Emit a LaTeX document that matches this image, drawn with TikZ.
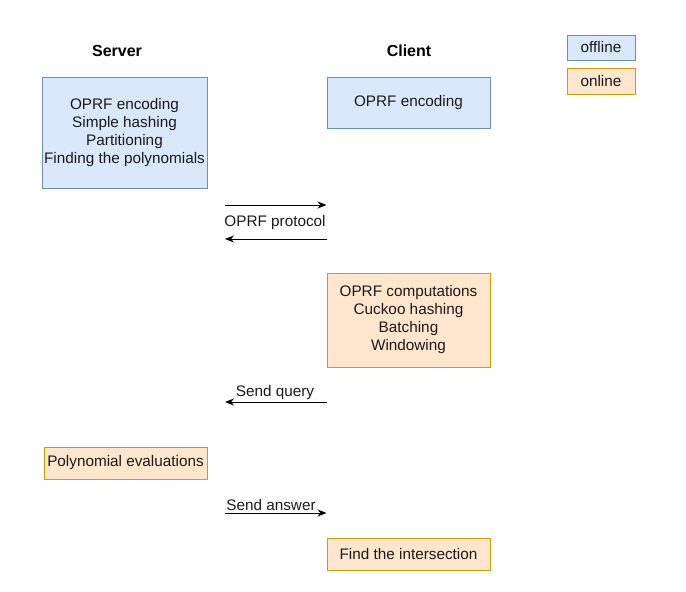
\documentclass[tikz,border=0pt]{standalone}
\usepackage{fontspec}
\setmainfont{Liberation Sans}
\usetikzlibrary{arrows.meta, positioning}
\definecolor{offfill}{HTML}{DAE8FC}
\definecolor{offdraw}{HTML}{6C8EBF}
\definecolor{onfill}{HTML}{FFE6CC}
\definecolor{ondraw}{HTML}{D79B00}
\definecolor{txt}{HTML}{1A1A1A}
\tikzset{
    box/.style={
        rectangle, draw, line width=1pt, align=center, inner sep=0pt,
        text=txt, font=\fontsize{15.3}{18}\selectfont
    },
    offbox/.style={box, fill=offfill, draw=offdraw},
    onbox/.style={box, fill=onfill, draw=ondraw},
    title/.style={font=\fontsize{16}{19}\selectfont\bfseries},
    msg/.style={draw=black, line width=1pt, -{Stealth[length=9pt, width=7pt]}},
    label/.style={font=\fontsize{15.3}{18}\selectfont, text=txt, inner sep=1pt}
}

\begin{document}
\begin{tikzpicture}[x=1pt, y=-1pt]
    \useasboundingbox (0,0) rectangle (686,592);

    % Titles
    \node[title] (server) at (117,51) {Server};
    \node[title] (client) at (409,51) {Client};

    % Legend
    \node[offbox, minimum width=68pt, minimum height=25pt] (offline) at (601,47.5) {offline};
    \node[onbox, minimum width=68pt, minimum height=26pt] (online) at (601,81) {online};

    % Offline phase
    \node[offbox, minimum width=165pt, minimum height=111pt] (srvoff) at (124.5,132.5)
        {OPRF encoding\\Simple hashing\\Partitioning\\Finding the polynomials};
    \node[offbox, minimum width=163pt, minimum height=51pt] (cltoff) at (408.5,102.5)
        {OPRF encoding};

    % OPRF protocol
    \coordinate (p1) at (225,205);
    \coordinate (p2) at (225,239);
    \draw[msg] (p1) -- (p1 -| cltoff.west);
    \node[label] (proto) at (275,223) {OPRF protocol};
    \draw[msg] (p2 -| cltoff.west) -- (p2);

    % Online phase
    \node[onbox, minimum width=163pt, minimum height=94pt] (cltquery) at (408.5,320)
        {OPRF computations\\Cuckoo hashing\\Batching\\Windowing};

    \coordinate (q1) at (225,402);
    \draw[msg] (q1 -| cltquery.west) -- (q1);
    \node[label] (query) at (275,393) {Send query};

    \node[onbox, minimum width=163pt, minimum height=32pt] (srveval) at (125.5,463)
        {Polynomial evaluations};

    \coordinate (a1) at (225,513);
    \draw[msg] (a1) -- (a1 -| cltquery.west);
    \node[label] (answer) at (271,505) {Send answer};

    \node[onbox, minimum width=163pt, minimum height=32pt] (cltinter) at (408.5,554)
        {Find the intersection};
\end{tikzpicture}
\end{document}
